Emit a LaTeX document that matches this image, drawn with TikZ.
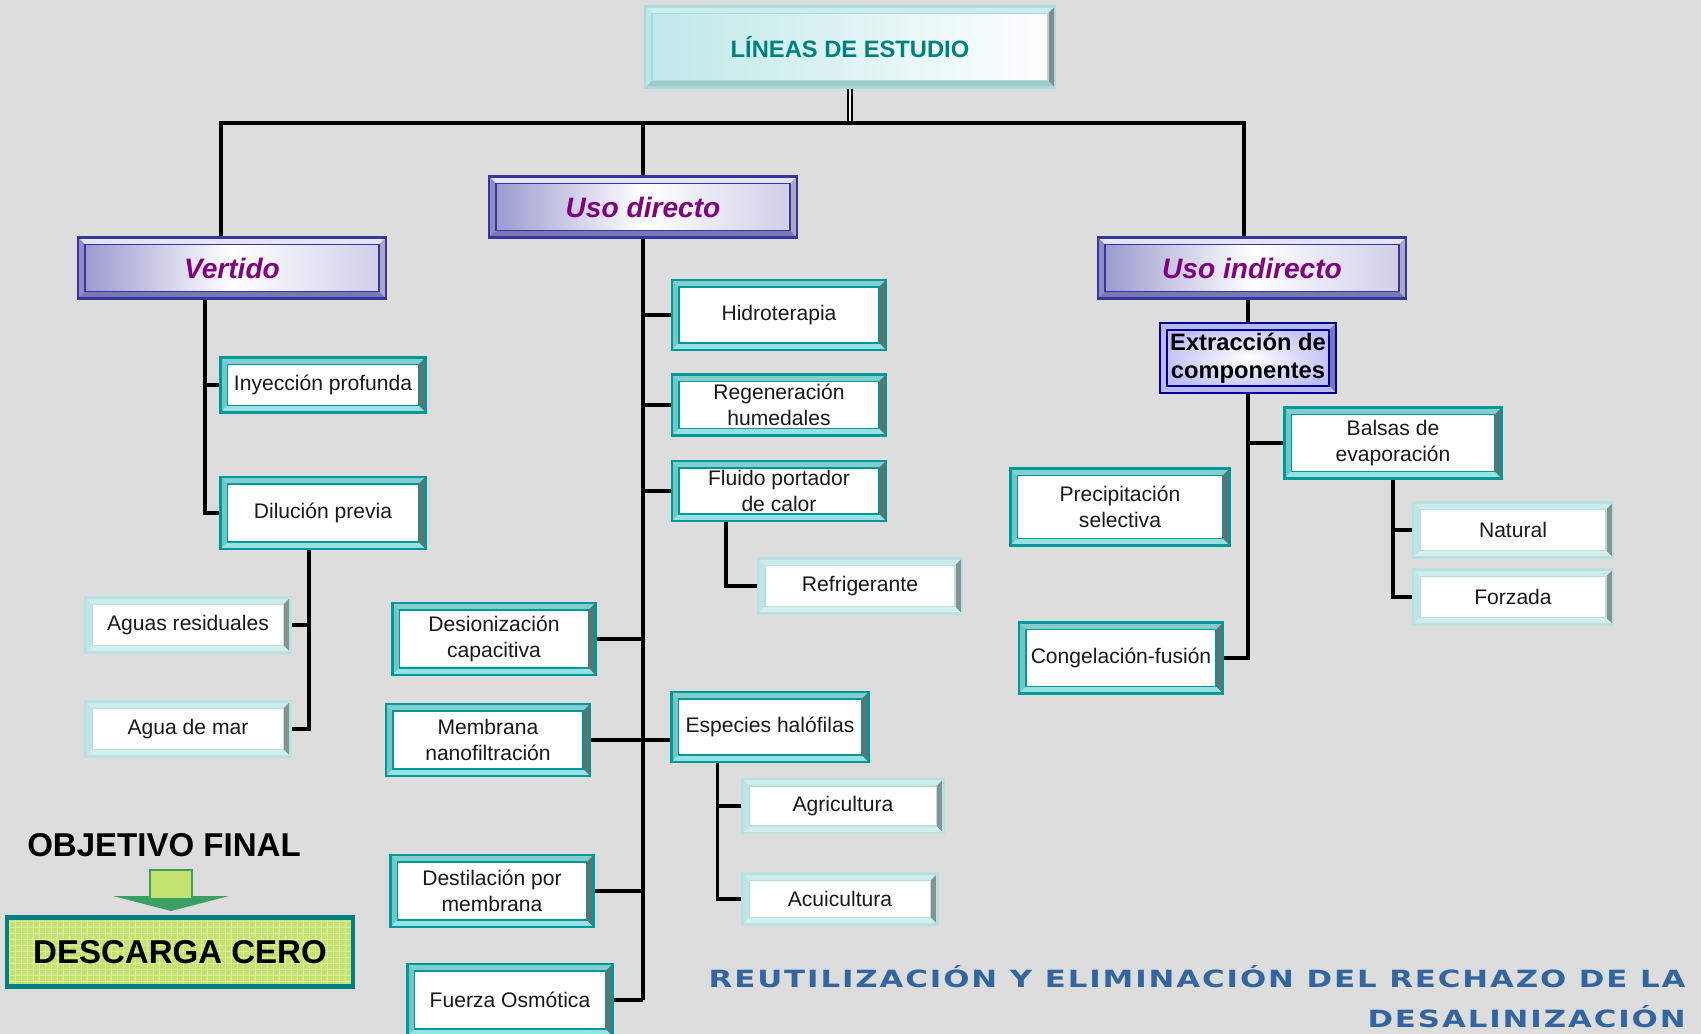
\documentclass[tikz,border=0pt]{standalone}
\usepackage{fontspec}
\setmainfont{Liberation Sans}
\newfontfamily\capfont[LetterSpace=8, FakeStretch=1.3]{DejaVu Sans}
\usetikzlibrary{calc, positioning}

\definecolor{bggray}{RGB}{221,221,221}
\definecolor{txtgray}{RGB}{25,25,25}
\definecolor{boxteal}{RGB}{0,153,153}
\definecolor{tealtop}{RGB}{130,205,205}
\definecolor{tealleft}{RGB}{110,200,200}
\definecolor{tealright}{RGB}{95,115,115}
\definecolor{tealbot}{RGB}{150,225,225}
\definecolor{litline}{RGB}{185,225,225}
\definecolor{littop}{RGB}{205,236,236}
\definecolor{litleft}{RGB}{190,230,230}
\definecolor{litright}{RGB}{135,145,145}
\definecolor{litbot}{RGB}{210,238,238}
\definecolor{hdrline}{RGB}{55,55,155}
\definecolor{hdrL}{RGB}{150,150,205}
\definecolor{hdrR}{RGB}{205,205,232}
\definecolor{hdrtop}{RGB}{228,228,246}
\definecolor{hdrleft}{RGB}{140,140,200}
\definecolor{hdrright}{RGB}{170,170,200}
\definecolor{hdrbot}{RGB}{120,120,180}
\definecolor{hdrtext}{RGB}{128,0,128}
\definecolor{topline}{RGB}{170,218,218}
\definecolor{topfill}{RGB}{190,232,232}
\definecolor{topright}{RGB}{130,140,140}
\definecolor{topbot}{RGB}{160,200,200}
\definecolor{toptext}{RGB}{0,128,128}
\definecolor{extline}{RGB}{0,0,150}
\definecolor{extfill}{RGB}{190,190,250}
\definecolor{exttop}{RGB}{185,185,240}
\definecolor{extright}{RGB}{120,120,180}
\definecolor{limefill}{RGB}{195,226,110}
\definecolor{limegrid}{RGB}{218,238,160}
\definecolor{arrowgreen}{RGB}{60,160,100}
\definecolor{desctea}{RGB}{0,128,128}
\definecolor{captext}{RGB}{51,102,160}

\def\bv{4pt}

\tikzset{
  bevelled/.style n args={5}{
    path picture={
      \coordinate (bnw) at (path picture bounding box.north west);
      \coordinate (bne) at (path picture bounding box.north east);
      \coordinate (bse) at (path picture bounding box.south east);
      \coordinate (bsw) at (path picture bounding box.south west);
      \fill[#1] (bnw) -- (bne) -- ([shift={(-\bv,-\bv)}]bne) -- ([shift={(\bv,-\bv)}]bnw) -- cycle;
      \fill[#2] (bnw) -- ([shift={(\bv,-\bv)}]bnw) -- ([shift={(\bv,\bv)}]bsw) -- (bsw) -- cycle;
      \fill[#3] (bne) -- (bse) -- ([shift={(-\bv,\bv)}]bse) -- ([shift={(-\bv,-\bv)}]bne) -- cycle;
      \fill[#4] (bsw) -- ([shift={(\bv,\bv)}]bsw) -- ([shift={(-\bv,\bv)}]bse) -- (bse) -- cycle;
      \draw[#5] ([shift={(\bv,\bv)}]bsw) rectangle ([shift={(-\bv,-\bv)}]bne);
    }
  },
  tealbox/.style={rectangle, draw=boxteal, line width=1.2pt, fill=white, inner sep=0pt,
    align=center, text=txtgray, font=\fontsize{12}{14.5}\selectfont,
    bevelled={tealtop}{tealleft}{tealright}{tealbot}{boxteal, line width=0.9pt}},
  litbox/.style={rectangle, draw=litline, line width=1.2pt, fill=white, inner sep=0pt,
    align=center, text=txtgray, font=\fontsize{12}{14.5}\selectfont,
    bevelled={littop}{litleft}{litright}{litbot}{litline, line width=0.9pt}},
  heading/.style={rectangle, draw=hdrline, line width=1.4pt, left color=hdrL, right color=hdrR,
    middle color=white, inner sep=0pt, minimum width=6.16cm, minimum height=1.22cm,
    text=hdrtext, font=\bfseries\itshape\fontsize{16}{19}\selectfont,
    bevelled={hdrtop}{hdrleft}{hdrright}{hdrbot}{hdrline, line width=0.9pt}},
  topbox/.style={rectangle, draw=topline, line width=1.2pt, left color=topfill, right color=white,
    inner sep=0pt, minimum width=8.2cm, minimum height=1.62cm,
    text=toptext, font=\bfseries\fontsize{13.5}{16}\selectfont,
    bevelled={littop}{topfill}{topright}{topbot}{topline, line width=0.9pt}},
  extbox/.style={rectangle, draw=extline, line width=1.6pt, inner color=white, outer color=extfill,
    inner sep=0pt, align=center, text=black, font=\bfseries\fontsize{13.5}{16}\selectfont,
    bevelled={exttop}{exttop}{extright}{exttop}{extline, line width=1pt}},
  conn/.style={draw=black, line width=1.8pt},
  dbl/.style={draw=black, double=bggray!40!white, line width=0.9pt, double distance=1.3pt},
}

\begin{document}
\begin{tikzpicture}[x=0.02cm, y=-0.02cm]
  \fill[bggray] (0,0) rectangle (1701,1034);
  \useasboundingbox (0,0) rectangle (1701,1034);

  % top level
  \node[topbox] (top) at (850,47) {LÍNEAS DE ESTUDIO};
  \node[heading] (vert) at (232,268) {Vertido};
  \node[heading] (udir) at (643,207) {Uso directo};
  \node[heading] (uind) at (1252,268) {Uso indirecto};
  \coordinate (bus) at (850,123);

  \draw[dbl] (top.south) -- (top.south |- bus);
  \draw[conn] ($(vert.north)+(-11,0)$) |- (bus) -| ($(uind.north)+(-8,0)$);
  \draw[conn] (udir.north |- bus) -- (udir.north);

  % Vertido
  \node[tealbox, minimum width=4.1cm, minimum height=1.1cm] (iny) at (323,385) {Inyección profunda};
  \node[tealbox, minimum width=4.1cm, minimum height=1.44cm] (dil) at (323,513) {Dilución previa};
  \node[litbox, minimum width=4.1cm, minimum height=1.1cm] (resid) at (188,625) {Aguas residuales};
  \node[litbox, minimum width=4.1cm, minimum height=1.1cm] (mar) at (188,729) {Agua de mar};

  \coordinate (vt) at ($(vert.south)+(-27,0)$);
  \draw[conn] (vt) |- (dil.west);
  \draw[conn] (vt |- iny.west) -- (iny.west);
  \coordinate (dt) at ($(dil.south)+(-14,0)$);
  \draw[conn] (dt) |- (mar.east);
  \draw[conn] (dt |- resid.east) -- (resid.east);

  % Uso directo
  \node[tealbox, minimum width=4.28cm, minimum height=1.4cm] (hidro) at (779,315) {Hidroterapia};
  \node[tealbox, minimum width=4.28cm, minimum height=1.22cm] (regen) at (779,405) {Regeneración\\humedales};
  \node[tealbox, minimum width=4.28cm, minimum height=1.2cm] (flu) at (779,491) {Fluido portador\\de calor};
  \node[litbox, minimum width=4.08cm, minimum height=1.1cm] (refr) at (860,586) {Refrigerante};
  \node[tealbox, minimum width=4.06cm, minimum height=1.44cm] (desi) at (494,639) {Desionización\\capacitiva};
  \node[tealbox, minimum width=4.08cm, minimum height=1.44cm] (memb) at (488,740) {Membrana\\nanofiltración};
  \node[tealbox, minimum width=3.94cm, minimum height=1.4cm] (esp) at (770,727) {Especies halófilas};
  \node[litbox, minimum width=4.02cm, minimum height=1.08cm] (agri) at (843,806) {Agricultura};
  \node[litbox, minimum width=3.9cm, minimum height=1.02cm] (acui) at (840,899) {Acuicultura};
  \node[tealbox, minimum width=4.06cm, minimum height=1.44cm] (dest) at (492,891) {Destilación por\\membrana};
  \node[tealbox, minimum width=4.1cm, minimum height=1.44cm] (fuer) at (510,1000) {Fuerza Osmótica};

  \draw[conn] (udir.south) -- (udir.south |- fuer.east);
  \foreach \n in {hidro, regen, flu}
    \draw[conn] (udir.south |- \n.west) -- (\n.west);
  \foreach \n in {desi, dest, fuer}
    \draw[conn] (\n.east) -- (\n.east -| udir.south);
  \draw[conn] (memb.east) -- (memb.east -| esp.west);
  \coordinate (ft) at ($(flu.south west)+(55,0)$);
  \draw[conn] (ft) |- (refr.west);
  \coordinate (et) at ($(esp.south west)+(47,0)$);
  \draw[conn] (et) |- (acui.west);
  \draw[conn] (et |- agri.west) -- (agri.west);

  % Uso indirecto
  \node[extbox, minimum width=3.52cm, minimum height=1.4cm] (extr) at (1248,358) {Extracción de\\componentes};
  \node[tealbox, minimum width=4.34cm, minimum height=1.42cm] (bals) at (1393,443) {Balsas de\\evaporación};
  \node[tealbox, minimum width=4.38cm, minimum height=1.54cm] (prec) at (1120,507) {Precipitación\\selectiva};
  \node[tealbox, minimum width=4.08cm, minimum height=1.42cm] (cong) at (1121,658) {Congelación-fusión};
  \node[litbox, minimum width=4cm, minimum height=1.1cm] (nat) at (1513,530) {Natural};
  \node[litbox, minimum width=4cm, minimum height=1.1cm] (forz) at (1513,597) {Forzada};

  \draw[conn] (extr.north |- uind.south) -- (extr.north);
  \draw[conn] (extr.south) |- (cong.east);
  \draw[conn] (extr.south |- bals.west) -- (bals.west);
  \draw[conn] (bals.south) |- (forz.west);
  \draw[conn] (bals.south |- nat.west) -- (nat.west);

  % objetivo final
  \node[font=\bfseries\fontsize{18.8}{22}\selectfont, text=black] (obj) at (164,845) {OBJETIVO FINAL};
  \node[rectangle, draw=desctea, line width=2.3pt, fill=limefill, inner sep=0pt,
    minimum width=6.94cm, minimum height=1.38cm, font=\bfseries\fontsize{18.8}{22}\selectfont,
    path picture={\draw[limegrid, line width=0.4pt, step=0.12cm]
      (path picture bounding box.south west) grid (path picture bounding box.north east);}]
    (desc) at (180,952) {DESCARGA CERO};
  \fill[arrowgreen] (113,896) -- (229,896) -- (171,911) -- cycle;
  \filldraw[fill=limefill, draw=arrowgreen, line width=0.8pt] (150,870) rectangle (192,899);

  % pie
  \node[anchor=base east, inner sep=0pt, text=captext, font=\capfont\bfseries\fontsize{13.5}{16}\selectfont]
    (ttl1) at (1686,987) {REUTILIZACIÓN Y ELIMINACIÓN DEL RECHAZO DE LA};
  \node[anchor=base east, inner sep=0pt, text=captext, font=\capfont\bfseries\fontsize{13.5}{16}\selectfont]
    (ttl2) at (1686,1027) {DESALINIZACIÓN};
\end{tikzpicture}
\end{document}
